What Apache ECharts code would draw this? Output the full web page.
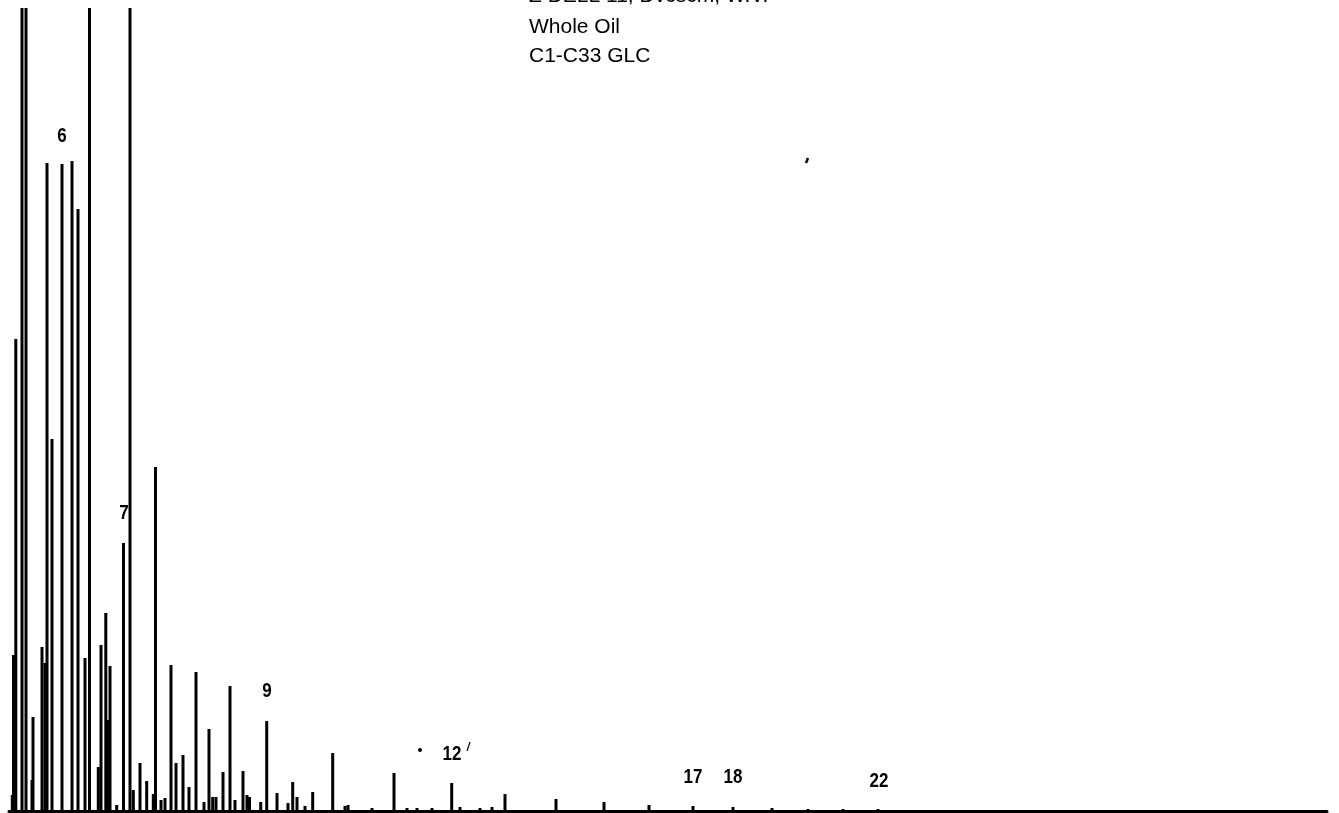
<!DOCTYPE html>
<html>
<head>
<meta charset="utf-8">
<script src="https://cdn.jsdelivr.net/npm/echarts@6/dist/echarts.min.js"></script>
<style>
  html, body { margin: 0; padding: 0; background: #fff; }
  #chart { width: 1339px; height: 813px; }
</style>
</head>
<body>
<div id="chart"></div>
<script>
// retention position of each peak (chart units) and its response height
const retention = [
  12.3, 13.5, 15.8, 22, 26, 32, 33, 42, 45, 47, 52, 62, 72, 78, 85, 89.5,
  98.3, 101, 105.8, 108, 110, 116.7, 123.5, 130, 133.3, 140, 146.7, 153.3,
  155.5, 161, 165, 171, 176, 183, 189, 196, 204, 209, 212.7, 216, 223, 230,
  235, 243, 247, 249.5, 260.7, 266.7, 277, 288, 292.7, 297, 305, 312.7, 332.7,
  345, 348, 372, 394, 407, 417, 432, 451.7, 460, 480, 492, 505, 556, 604, 649,
  693, 733, 772, 808, 843, 878, 960, 1010, 1075, 1120, 1165, 1215, 1260
];
const response = [
  16, 156, 472, 1000, 1000, 31, 94, 164, 148, 648, 372, 647, 650, 602, 153, 1000,
  44, 166, 198, 91, 145, 6, 268, 1000, 21, 48, 30, 17,
  344, 11, 13, 146, 48, 56, 24, 139, 9, 82, 14, 14, 39, 125,
  11, 40, 16, 14, 9, 90, 18, 8, 29, 14, 5, 19, 58,
  5, 6, 3, 38, 3, 3, 3, 28, 4, 3, 4, 17, 12, 9, 6,
  5, 4, 3, 2, 2, 2, 1, 1, 1, 1, 1, 1, 1
];
const peakLabels = [
  { text: '6', x: 62, y: 136 },
  { text: '7', x: 124, y: 513 },
  { text: '9', x: 267, y: 691 },
  { text: '12', x: 452, y: 754 },
  { text: '17', x: 693, y: 777 },
  { text: '18', x: 733, y: 777 },
  { text: '22', x: 879, y: 781 }
];
const titleLines = ['Z DELL 11, Dvcscm, W.V.', 'Whole Oil', 'C1-C33 GLC'];
const titleTops = [-14, 17, 46];

const peaks = retention.map((r, i) => [r, response[i]]);

const chart = echarts.init(document.getElementById('chart'));

const graphics = [];
titleLines.forEach((t, i) => {
  graphics.push({
    type: 'text', left: 529, top: titleTops[i],
    style: { text: t, fill: '#000', font: '21px "Liberation Sans", Arial, sans-serif' }
  });
});
peakLabels.forEach(p => {
  graphics.push({
    type: 'text', x: p.x, y: p.y, scaleX: 0.85,
    style: {
      text: p.text, fill: '#000', align: 'center', verticalAlign: 'middle',
      font: 'bold 20px "Liberation Sans", Arial, sans-serif'
    }
  });
});
// small marks near label 12 and the stray mark up top
graphics.push({ type: 'circle', shape: { cx: 420, cy: 750, r: 2 }, style: { fill: '#000' } });
graphics.push({ type: 'line', shape: { x1: 470, y1: 742, x2: 467, y2: 751 }, style: { stroke: '#000', lineWidth: 1.2 } });
graphics.push({ type: 'line', shape: { x1: 808, y1: 158, x2: 806, y2: 163 }, style: { stroke: '#000', lineWidth: 2.5 } });

chart.setOption({
  animation: false,
  backgroundColor: '#fff',
  grid: { left: 9, right: 12, top: 8, bottom: 2 },
  xAxis: {
    type: 'value', min: 9, max: 1327,
    axisLine: { show: true, lineStyle: { color: '#000', width: 3 } },
    axisTick: { show: false }, axisLabel: { show: false }, splitLine: { show: false }
  },
  yAxis: {
    type: 'value', min: 0, max: 803,
    axisLine: { show: false }, axisTick: { show: false },
    axisLabel: { show: false }, splitLine: { show: false }
  },
  graphic: graphics,
  series: [{
    type: 'bar',
    data: peaks,
    barWidth: 3,
    clip: true,
    itemStyle: { color: '#000' }
  }]
});
window.onresize = () => chart.resize();
</script>
</body>
</html>
